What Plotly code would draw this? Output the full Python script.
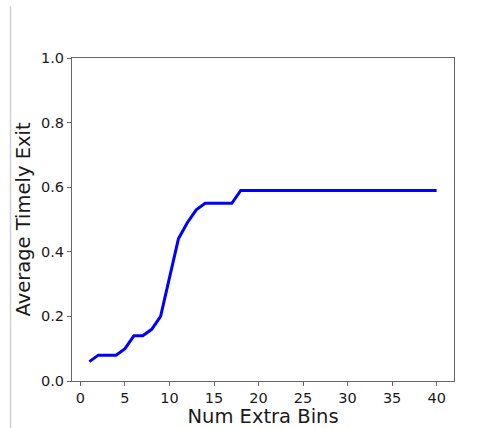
import plotly.graph_objects as go

num_extra_bins = list(range(1, 41))
avg_timely_exit = [0.06, 0.08, 0.08, 0.08, 0.10, 0.14, 0.14, 0.16, 0.20, 0.32,
                   0.44, 0.49, 0.53, 0.55, 0.55, 0.55, 0.55] + [0.59] * 23

x_ticks = [0, 5, 10, 15, 20, 25, 30, 35, 40]
y_ticks = [0.0, 0.2, 0.4, 0.6, 0.8, 1.0]
y_tick_labels = ["0.0", "0.2", "0.4", "0.6", "0.8", "1.0"]

W, H = 493, 428
ml, mr, mt, mb = 72, 39, 58, 47

fig = go.Figure()
fig.add_trace(go.Scatter(x=num_extra_bins, y=avg_timely_exit, mode="lines",
                         line=dict(color="#0000ff", width=3)))

font = dict(family="DejaVu Sans", size=14.5, color="#1a1a1a")
title_font = dict(family="DejaVu Sans", size=19.5, color="#1a1a1a")
axis_common = dict(showgrid=False, zeroline=False, showline=True, linecolor="#666",
                   linewidth=1, mirror=True, ticks="outside", ticklen=4,
                   tickcolor="#666", tickfont=font, automargin=False)

fig.update_layout(
    width=W, height=H,
    margin=dict(l=ml, r=mr, t=mt, b=mb),
    paper_bgcolor="white", plot_bgcolor="white",
    showlegend=False,
    xaxis=dict(range=[-0.95, 41.95], tickvals=x_ticks,
               title=dict(text="Num Extra Bins", font=title_font, standoff=1),
               **axis_common),
    yaxis=dict(range=[0, 1], tickvals=y_ticks, ticktext=y_tick_labels,
               title=dict(text="Average Timely Exit", font=title_font, standoff=5),
               **axis_common),
)

# thin light-grey vertical line at the left edge of the page (from the screenshot)
pw = W - ml - mr
ph = H - mt - mb
px = (10.5 - ml) / pw
fig.add_shape(type="line", xref="paper", yref="paper",
              x0=px, x1=px, y0=(H - 428 - mb) / ph, y1=(H - 6 - mb) / ph,
              line=dict(color="#d0d0d0", width=1.5))

fig.write_html("out.html")
